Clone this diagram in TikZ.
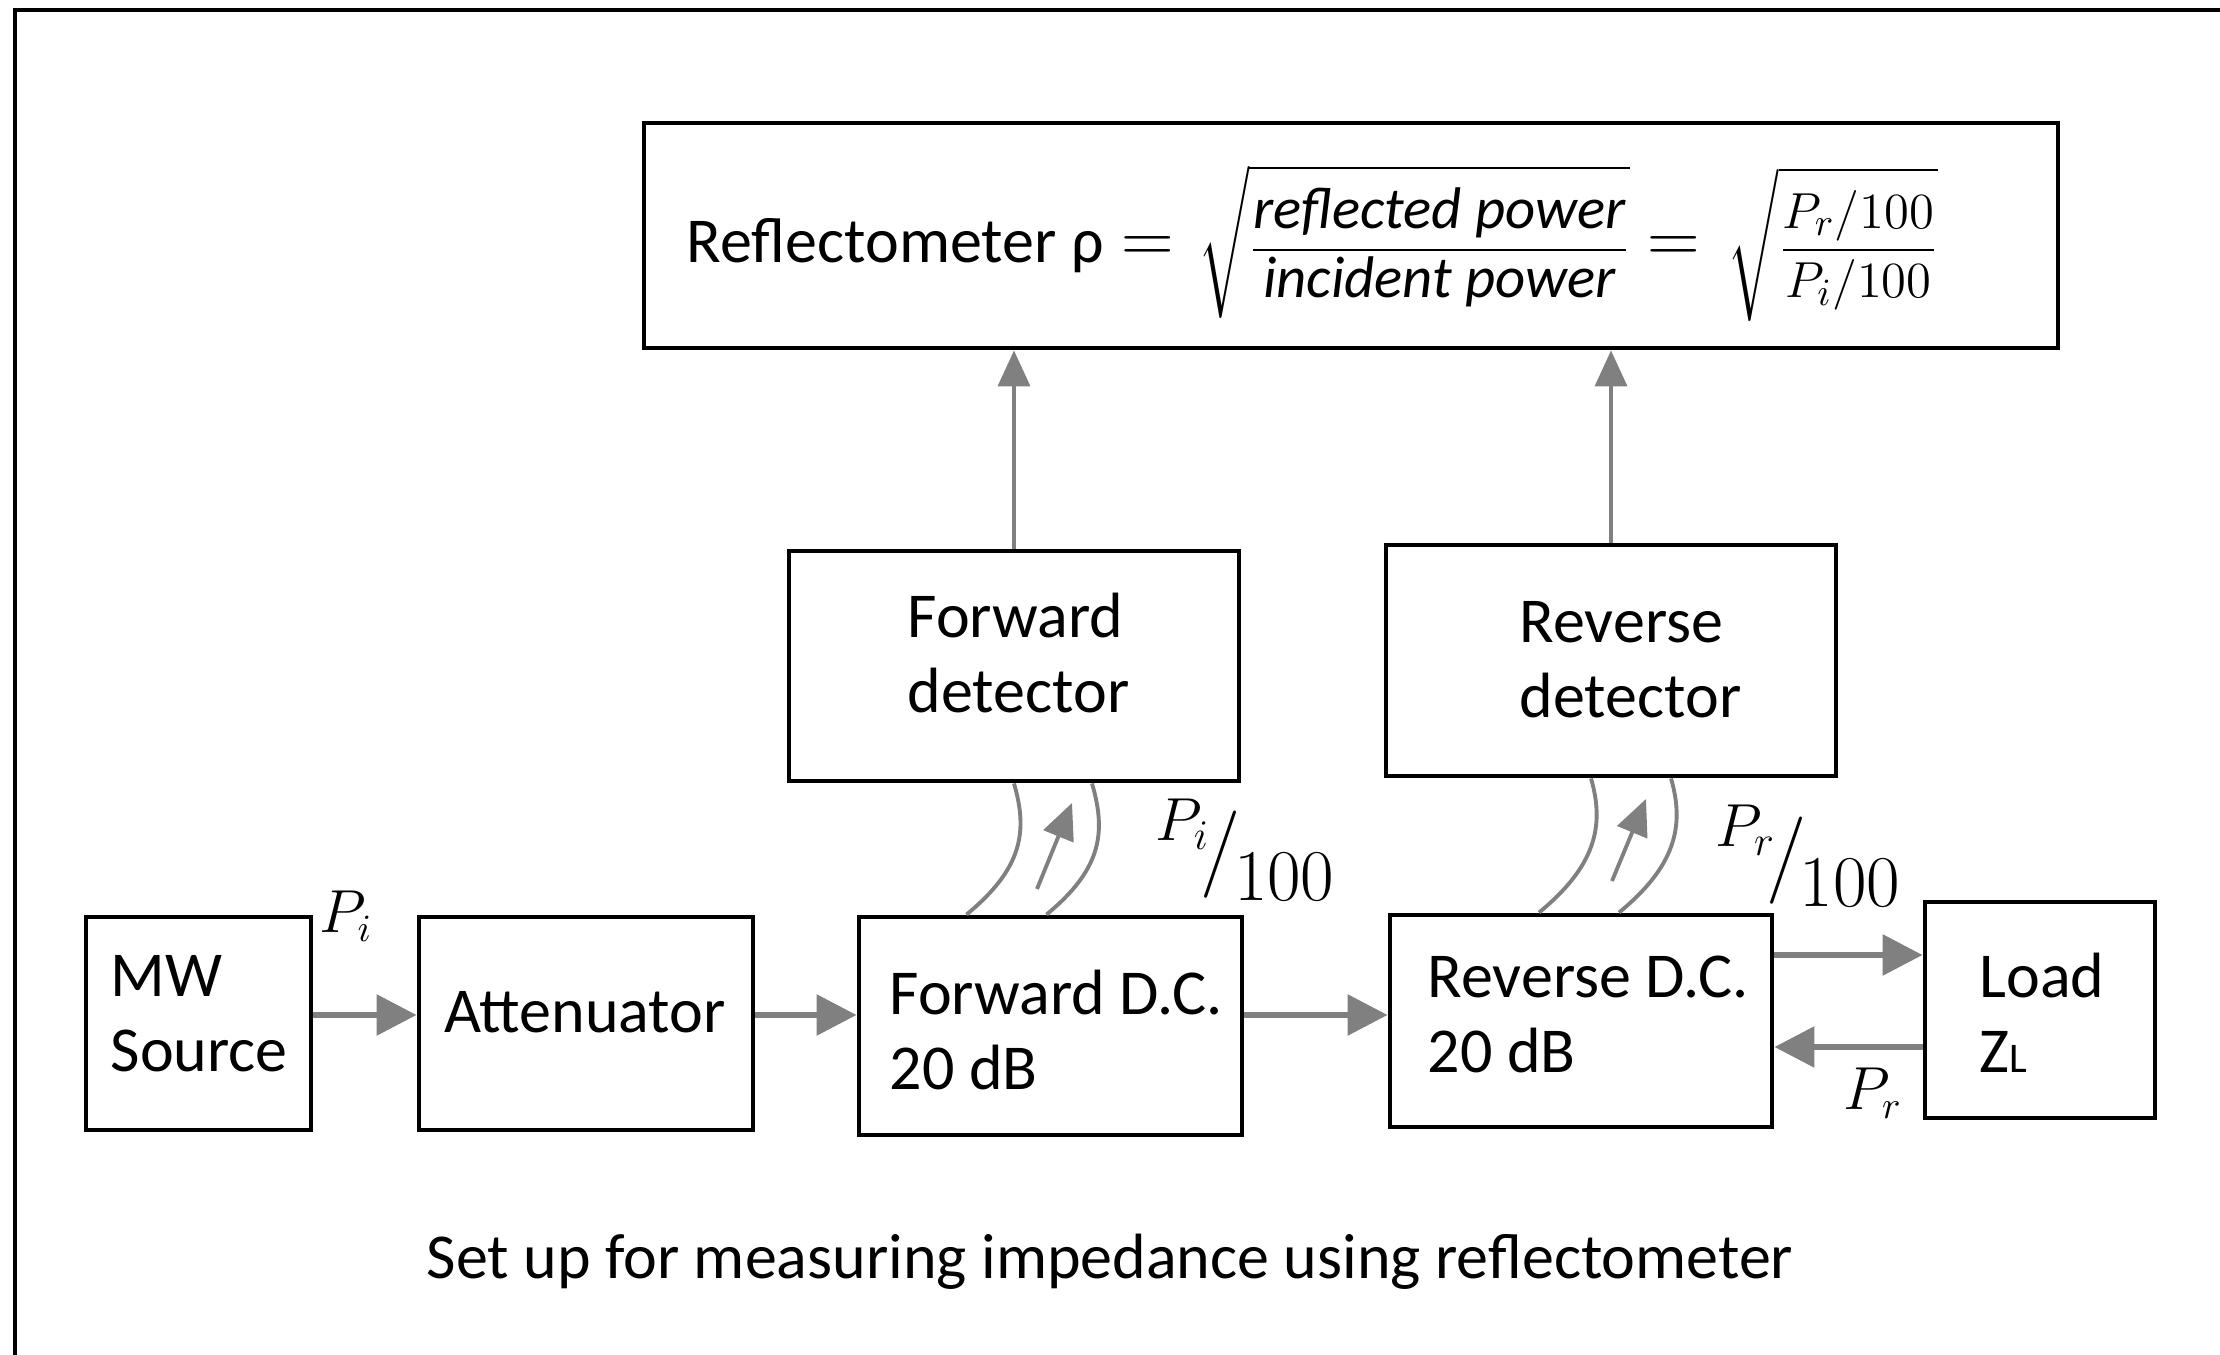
\documentclass[tikz,border=0pt]{standalone}
\usepackage{amsmath}
\usepackage{fontspec}
\setmainfont{Carlito}
\usetikzlibrary{arrows.meta,calc,fit}
\definecolor{arrgray}{RGB}{128,128,128}
\begin{document}
\begin{tikzpicture}[x=0.01cm,y=-0.01cm,
  box/.style={draw=black,line width=1.4pt,inner sep=0pt,fill=none},
  txt/.style={inner sep=0pt,align=left,font=\fontsize{18.2}{21.3}\selectfont},
  lbl/.style={inner sep=0pt,font=\fontsize{16}{18}\selectfont},
  harr/.style={draw=arrgray,line width=1.7pt,-{Triangle[length=0.4cm,width=0.4cm]}},
  varr/.style={draw=arrgray,line width=1.1pt,-{Triangle[length=0.36cm,width=0.32cm]}},
  coup/.style={draw=arrgray,line width=1.1pt},
]
\useasboundingbox (0,0) rectangle (2220,1355);
\fill[white] (0,0) rectangle (2220,1355);
\draw[line width=1.15pt] (15,1400) -- (15,10) -- (2260,10);

% boxes
\node[box,fit={(644,123) (2058,348)}] (top) {};
\node[box,fit={(789,551) (1239,781)}] (fdet) {};
\node[box,fit={(1386,545) (1836,776)}] (rdet) {};
\node[box,fit={(86,917) (311,1130)}] (mw) {};
\node[box,fit={(419,917) (753,1130)}] (att) {};
\node[box,fit={(859,917) (1242,1135)}] (fdc) {};
\node[box,fit={(1390,915) (1772,1127)}] (rdc) {};
\node[box,fit={(1925,902) (2155,1118)}] (load) {};

% texts
\node[inner sep=0pt,anchor=west] (formula) at (686,243)
  {{\fontsize{18.2}{20}\selectfont Reflectometer ρ}\hspace{5pt}{\fontsize{15.5}{18}\selectfont{\fontsize{20}{20}\selectfont$=$}\hspace{7pt}$\displaystyle\sqrt{\frac{\text{\fontsize{16.7}{19}\selectfont\itshape reflected power}}{\text{\fontsize{16.7}{19}\selectfont\itshape incident power}}}$\hspace{5pt}{\fontsize{20}{20}\selectfont$=$}\hspace{8pt}$\displaystyle\sqrt{\frac{P_r/100}{P_i/100}}$}};
\node[txt,anchor=west] (fdetT) at (907,653) {Forward\\detector};
\node[txt,anchor=west] (rdetT) at (1519,660) {Reverse\\detector};
\node[txt,anchor=west] (mwT) at (110,1014) {MW\\Source};
\node[txt] (attT) at (585,1012) {Attenuator};
\node[txt,anchor=west] (fdcT) at (889,1030) {Forward D.C.\\20 dB};
\node[txt,anchor=west] (rdcT) at (1427,1014) {Reverse D.C.\\20 dB};
\node[txt,anchor=west] (loadT) at (1979,1013) {Load\\Z{\fontsize{12}{12}\selectfont L}};
\node[txt] (cap) at (1110,1262) {Set up for measuring impedance using reflectometer};

% main line arrows
\coordinate (yA) at (0,1015);
\coordinate (yU) at (0,955);
\coordinate (yD) at (0,1047);
\draw[harr] (mw.east |- yA) -- (att.west |- yA);
\draw[harr] (att.east |- yA) -- (fdc.west |- yA);
\draw[harr] (fdc.east |- yA) -- (rdc.west |- yA);
\draw[harr] (rdc.east |- yU) -- (load.west |- yU);
\draw[harr] (load.west |- yD) -- (rdc.east |- yD);

% detector outputs
\draw[varr] (fdet.north) -- (fdet.north |- top.south);
\draw[varr] (rdet.north) -- (rdet.north |- top.south);

% forward coupler
\coordinate (f1a) at ($(fdet.south)+(0,0)$);
\coordinate (f1b) at ($(fdc.north)+(-84,0)$);
\coordinate (f2a) at ($(fdet.south)+(78,0)$);
\coordinate (f2b) at ($(fdc.north)+(-4,0)$);
\draw[coup] (f1a) .. controls ($(f1a)+(14,48)$) and ($(f1b)+(56,-46)$) .. (f1b);
\draw[coup] (f2a) .. controls ($(f2a)+(14,48)$) and ($(f2b)+(56,-46)$) .. (f2b);
\coordinate (fat) at (1037,889);
\coordinate (fah) at (1072,803);
\draw[varr] (fat) -- (fah);

% reverse coupler
\coordinate (r1a) at ($(rdet.south)+(-20,0)$);
\coordinate (r1b) at ($(rdc.north)+(-42,0)$);
\coordinate (r2a) at ($(rdet.south)+(60,0)$);
\coordinate (r2b) at ($(rdc.north)+(38,0)$);
\draw[coup] (r1a) .. controls ($(r1a)+(14,48)$) and ($(r1b)+(56,-46)$) .. (r1b);
\draw[coup] (r2a) .. controls ($(r2a)+(14,48)$) and ($(r2b)+(56,-46)$) .. (r2b);
\coordinate (rat) at (1612,881);
\coordinate (rah) at (1646,799);
\draw[varr] (rat) -- (rah);

% labels
\node[lbl,font=\fontsize{18}{20}\selectfont] (fl) at (1245,850)
  {\raisebox{1.2ex}{$P_i$}\kern-0.15em{\fontsize{30}{30}\selectfont$/$}\kern-0.1em\raisebox{-0.8ex}{\fontsize{22}{22}\selectfont$100$}};
\node[lbl,font=\fontsize{18}{20}\selectfont] (rl) at (1808,856)
  {\raisebox{1.2ex}{$P_r$}\kern-0.15em{\fontsize{30}{30}\selectfont$/$}\kern-0.1em\raisebox{-0.8ex}{\fontsize{22}{22}\selectfont$100$}};
\node[lbl] (pi) at (346,916) {$P_i$};
\node[lbl] (pr) at (1873,1093) {$P_r$};
\end{tikzpicture}
\end{document}
